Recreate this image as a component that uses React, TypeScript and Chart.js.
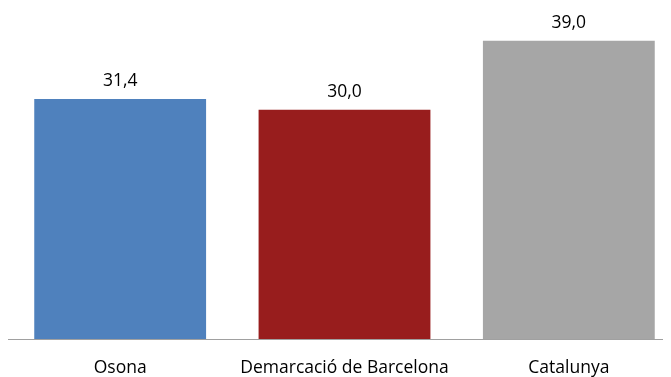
import React, { useEffect, useRef } from "react";
import { Chart, registerables } from "chart.js";

Chart.register(...registerables);

const categories = ["Osona", "Demarcació de Barcelona", "Catalunya"];
const values = [31.4, 30.0, 39.0];
const colors = ["#4F81BD", "#981D1D", "#A6A6A6"];
const FONT = "'Open Sans', 'Liberation Sans', sans-serif";

const textLabels = {
  id: "textLabels",
  afterDatasetsDraw(chart: any) {
    const ctx = chart.ctx;
    const meta = chart.getDatasetMeta(0);
    const xScale = chart.scales.x;
    ctx.save();
    ctx.font = `17.5px ${FONT}`;
    ctx.fillStyle = "#000";
    ctx.textAlign = "center";
    ctx.textBaseline = "alphabetic";
    meta.data.forEach((el: any, i: number) => {
      const txt = values[i].toFixed(1).replace(".", ",");
      ctx.fillText(txt, el.x, el.y - 13);
    });
    categories.forEach((c, i) => {
      ctx.fillText(c, xScale.getPixelForTick(i), xScale.bottom + 34);
    });
    ctx.restore();
  },
};

export default function App() {
  const ref = useRef<HTMLCanvasElement>(null);
  useEffect(() => {
    const chart = new Chart(ref.current!, {
      type: "bar",
      data: {
        labels: categories,
        datasets: [
          {
            data: values,
            backgroundColor: colors,
            barPercentage: 0.766,
            categoryPercentage: 1,
          },
        ],
      },
      options: {
        responsive: false,
        animation: false,
        layout: { padding: { left: 0, right: 0, top: 0, bottom: 38 } },
        plugins: { legend: { display: false }, tooltip: { enabled: false } },
        scales: {
          x: {
            grid: { display: false, drawTicks: false },
            border: { display: true, color: "#A0A0A0", width: 1 },
            ticks: { display: false, padding: 0 },
          },
          y: { display: false, min: 0, max: 43.3 },
        },
      },
      plugins: [textLabels],
    });
    return () => chart.destroy();
  }, []);
  return (
    <div style={{ width: 663, height: 369, overflow: "hidden" }}>
      <canvas ref={ref} width={673} height={369} style={{ display: "block" }} />
    </div>
  );
}
